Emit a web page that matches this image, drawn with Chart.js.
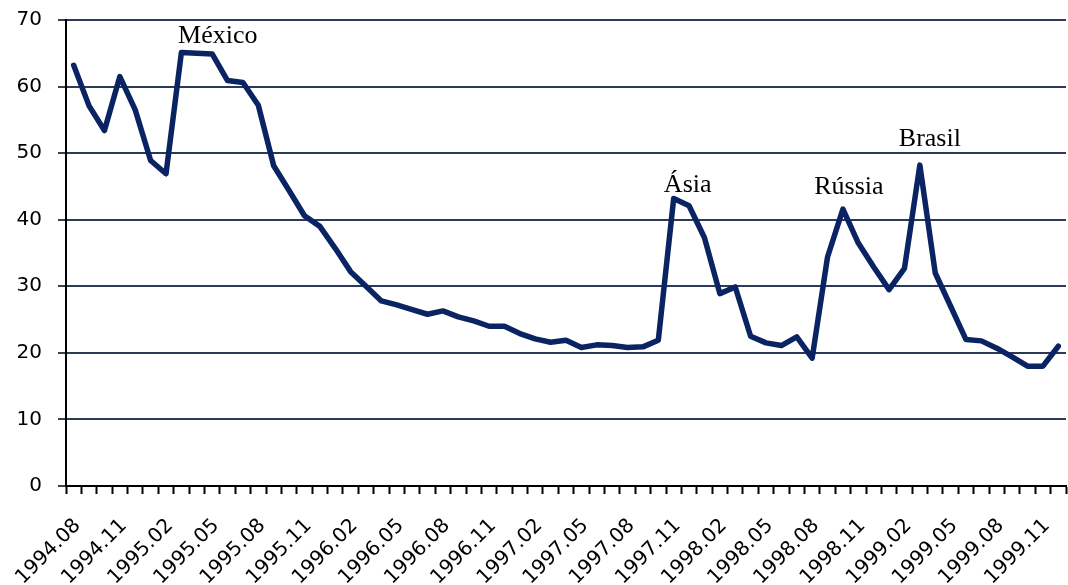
<!DOCTYPE html>
<html>
<head>
<meta charset="utf-8">
<script src="https://cdn.jsdelivr.net/npm/chart.js@4/dist/chart.umd.min.js"></script>
<style>
  html, body { margin: 0; padding: 0; background: #fff; }
  #wrap { width: 1068px; height: 585px; position: relative; }
</style>
</head>
<body>
<div id="wrap"><canvas id="c" width="1068" height="585"></canvas></div>
<script>
// Monthly categories, 1994.08 – 1999.12
const months = [
  '1994.08','1994.09','1994.10','1994.11','1994.12',
  '1995.01','1995.02','1995.03','1995.04','1995.05','1995.06','1995.07','1995.08','1995.09','1995.10','1995.11','1995.12',
  '1996.01','1996.02','1996.03','1996.04','1996.05','1996.06','1996.07','1996.08','1996.09','1996.10','1996.11','1996.12',
  '1997.01','1997.02','1997.03','1997.04','1997.05','1997.06','1997.07','1997.08','1997.09','1997.10','1997.11','1997.12',
  '1998.01','1998.02','1998.03','1998.04','1998.05','1998.06','1998.07','1998.08','1998.09','1998.10','1998.11','1998.12',
  '1999.01','1999.02','1999.03','1999.04','1999.05','1999.06','1999.07','1999.08','1999.09','1999.10','1999.11','1999.12'
];

// Series values
const values = [
  63.2, 57.1, 53.4, 61.5, 56.5,
  48.9, 46.9, 65.1, 65.0, 64.9, 60.9, 60.6, 57.2, 48.1, 44.4, 40.6, 39.0,
  35.7, 32.2, 30.0, 27.8, 27.2, 26.5, 25.8, 26.3, 25.4, 24.8, 24.0, 24.0,
  22.9, 22.1, 21.6, 21.9, 20.8, 21.2, 21.1, 20.8, 20.9, 21.9, 43.2, 42.1,
  37.3, 28.9, 29.9, 22.5, 21.5, 21.1, 22.4, 19.2, 34.4, 41.6, 36.5, 32.9,
  29.5, 32.7, 48.2, 32.0, 27.0, 22.0, 21.8, 20.7, 19.4, 18.0, 18.0, 21.0
];

// Y axis range and step
const yMin = 0;
const yMax = 70;
const yStep = 10;

// Event labels, anchored to a point of the series
const events = [
  { text: 'México', index: 8 },
  { text: 'Ásia', index: 39 },
  { text: 'Rússia', index: 50 },
  { text: 'Brasil', index: 55 }
];

// Pixel nudges for the event labels (text centre / baseline relative to the point)
const eventOffsets = [
  { dx: 21, dy: -10 },
  { dx: 14, dy: -6 },
  { dx: 6, dy: -15 },
  { dx: 10, dy: -19 }
];

const eventLabels = {
  id: 'eventLabels',
  afterDatasetsDraw(chart) {
    const { ctx, scales } = chart;
    ctx.save();
    ctx.font = '26px "Liberation Serif", "Times New Roman", serif';
    ctx.fillStyle = '#000';
    ctx.textAlign = 'center';
    ctx.textBaseline = 'alphabetic';
    events.forEach((ev, k) => {
      const off = eventOffsets[k];
      const x = scales.x.getPixelForValue(ev.index) + off.dx;
      const y = scales.y.getPixelForValue(values[ev.index]) + off.dy;
      ctx.fillText(ev.text, x, y);
    });
    ctx.restore();
  }
};

new Chart(document.getElementById('c'), {
  type: 'line',
  data: {
    labels: months,
    datasets: [{
      data: values,
      borderColor: '#0a2362',
      borderWidth: 5.5,
      pointRadius: 0,
      tension: 0,
      fill: false,
      borderJoinStyle: 'round',
      borderCapStyle: 'round'
    }]
  },
  options: {
    responsive: false,
    animation: false,
    layout: { padding: { top: 20, right: 2, left: 0, bottom: 0 } },
    plugins: {
      legend: { display: false },
      tooltip: { enabled: false }
    },
    scales: {
      x: {
        type: 'category',
        offset: true,
        afterFit(scale) {
          scale.height = 99;
          scale.paddingLeft = 0;
          scale.paddingRight = 0;
        },
        grid: {
          offset: true,
          drawOnChartArea: false,
          drawTicks: true,
          tickLength: 8,
          tickColor: '#000',
          tickWidth: 2
        },
        border: { color: '#000', width: 2 },
        ticks: {
          autoSkip: false,
          minRotation: 45,
          maxRotation: 45,
          padding: 20,
          labelOffset: 4,
          color: '#000',
          font: { family: '"DejaVu Sans", sans-serif', size: 20 },
          callback(value, index) {
            return index % 3 === 0 ? months[index] : '';
          }
        }
      },
      y: {
        min: yMin,
        max: yMax,
        afterFit(scale) {
          scale.width = 66;
          scale.paddingTop = 0;
          scale.paddingBottom = 0;
        },
        grid: {
          color: 'rgba(22,36,70,0.9)',
          lineWidth: 2,
          tickColor: '#000',
          tickLength: 8,
          tickWidth: 1.5
        },
        border: { color: '#000', width: 2 },
        ticks: {
          stepSize: yStep,
          padding: 16,
          color: '#000',
          font: { family: '"DejaVu Sans", sans-serif', size: 20 }
        }
      }
    }
  },
  plugins: [eventLabels]
});
</script>
</body>
</html>
